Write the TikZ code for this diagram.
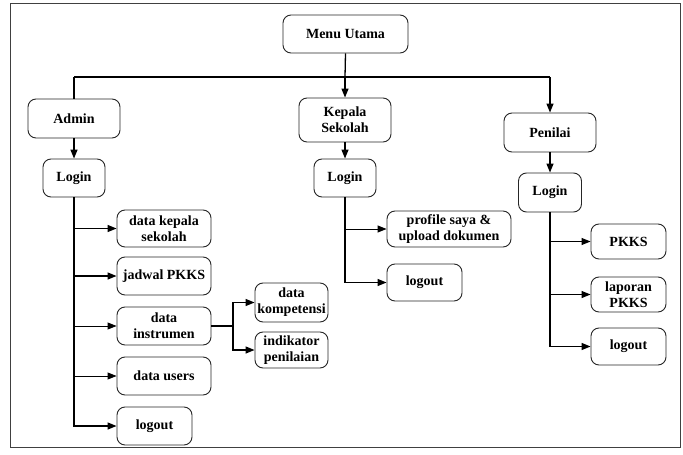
\documentclass[tikz,border=0pt]{standalone}
\usepackage{fontspec}
\setmainfont{Liberation Serif}[BoldFont={Liberation Serif Bold}]
\usetikzlibrary{arrows.meta}
\begin{document}
\begin{tikzpicture}[x=1pt,y=-1pt,
  box/.style={draw=black!85,line width=0.9pt,rounded corners=8pt,fill=white,align=center,
    inner sep=0pt,font=\fontsize{14}{16}\selectfont\bfseries},
  conn/.style={line width=1.3pt,black},
  arr/.style={conn,-{Triangle[length=9pt,width=7pt]}}]
\useasboundingbox (0,0) rectangle (683,455);
\draw[line width=0.8pt,black!75] (10,3) rectangle (680,447);
% top level
\node[box,minimum width=125pt,minimum height=38pt] (menu) at (345.5,34) {Menu Utama};
\node[box,minimum width=92pt,minimum height=39pt] (admin) at (74,118.5) {Admin};
\node[box,minimum width=92pt,minimum height=44pt] (ks) at (345,120) {Kepala\\Sekolah};
\node[box,minimum width=92pt,minimum height=39pt] (pen) at (550,132.5) {Penilai};
\coordinate (bl) at (74,77);
\coordinate (bm) at (345,77);
\coordinate (br) at (550,77);
% logins
\node[box,minimum width=62pt,minimum height=38pt] (alog) at (74,178) {Login};
\node[box,minimum width=62pt,minimum height=38pt] (klog) at (345,178) {Login};
\node[box,minimum width=63pt,minimum height=39pt] (plog) at (550,192.5) {Login};
% admin menu
\node[box,minimum width=94pt,minimum height=37pt] (dks) at (164,228.5) {data kepala\\sekolah};
\node[box,minimum width=94pt,minimum height=38pt] (jad) at (164,276) {jadwal PKKS};
\node[box,minimum width=94pt,minimum height=38pt] (din) at (164,326) {data\\instrumen};
\node[box,minimum width=94pt,minimum height=38pt] (dus) at (164,376) {data users};
\node[box,minimum width=75pt,minimum height=38pt] (alo) at (154.5,426) {logout};
\node[box,minimum width=73pt,minimum height=39pt] (dkom) at (291.5,302.5) {data\\kompetensi};
\node[box,minimum width=73pt,minimum height=36pt] (ind) at (291.5,350) {indikator\\penilaian};
\coordinate (dib) at (233,326);
% kepala sekolah menu
\node[box,minimum width=124pt,minimum height=36pt] (prof) at (449,229) {profile saya \&\\upload dokumen};
\node[box,minimum width=75pt,minimum height=37pt] (klo) at (424.5,282.5) {logout};
% penilai menu
\node[box,minimum width=75pt,minimum height=35pt] (pkks) at (628.5,241.5) {PKKS};
\node[box,minimum width=75pt,minimum height=35pt] (lap) at (628.5,294.5) {laporan\\PKKS};
\node[box,minimum width=75pt,minimum height=37pt] (plo) at (628.5,346.5) {logout};
% connectors
\draw[conn] (menu.south) -- (bm);
\draw[conn] (bl) -- (br);
\draw[conn] (bl) -- (admin.north);
\draw[arr] (bm) -- (ks.north);
\draw[arr] (br) -- (pen.north);
\draw[arr] (admin.south) -- (alog.north);
\draw[arr] (ks.south) -- (klog.north);
\draw[arr] (pen.south) -- (plog.north);
\draw[arr] (alog.south) |- (dks.west);
\draw[arr] (alog.south) |- (jad.west);
\draw[arr,line width=0.9pt] (alog.south) |- (din.west);
\draw[arr,line width=0.9pt] (alog.south) |- (dus.west);
\draw[arr] (alog.south) |- (alo.west);
\draw[conn] (din.east) -- (dib);
\draw[arr] (dib) |- (dkom.west);
\draw[arr] (dib) |- (ind.west);
\draw[arr,line width=1pt] (klog.south) |- (prof.west);
\draw[arr] (klog.south) |- (klo.west);
\draw[arr,line width=1pt] (plog.south) |- (pkks.west);
\draw[arr,line width=1pt] (plog.south) |- (lap.west);
\draw[arr] (plog.south) |- (plo.west);
\end{tikzpicture}
\end{document}
